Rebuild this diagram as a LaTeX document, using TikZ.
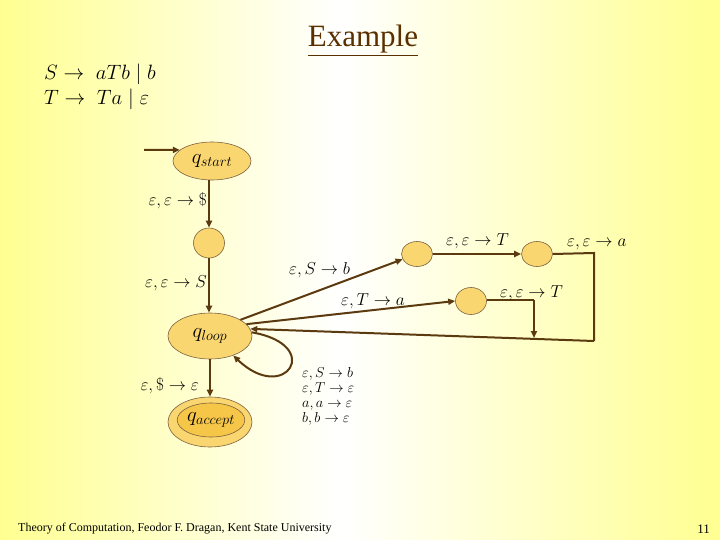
\documentclass[tikz,border=0pt]{standalone}
\usepackage{fontspec}
\setmainfont{Liberation Serif}
\usetikzlibrary{shapes.geometric,arrows.meta}
\definecolor{bgy}{RGB}{255,255,145}
\definecolor{brn}{RGB}{92,58,16}
\definecolor{nfill}{RGB}{249,214,112}
\definecolor{nfill2}{RGB}{246,198,72}
\definecolor{ttl}{RGB}{90,48,0}
\tikzset{
  st/.style={ellipse,draw=brn!80,line width=0.6pt,fill=nfill,inner sep=0pt},
  con/.style={draw=brn,line width=2pt,-{Triangle[length=7pt,width=6pt]}},
  plainline/.style={draw=brn,line width=2pt},
  lab/.style={font=\fontsize{18}{20}\selectfont,inner sep=1pt},
  slab/.style={font=\fontsize{15}{16}\selectfont,inner sep=0pt,align=left}
}
\begin{document}
\begin{tikzpicture}[x=1pt,y=-1pt]
\useasboundingbox (0,0) rectangle (720,540);
\shade[left color=bgy,right color=white] (0,0) rectangle (340,540);
\shade[left color=white,right color=bgy] (340,0) rectangle (720,540);
% title
\node[font=\fontsize{31}{34}\selectfont,text=ttl,anchor=base,inner sep=0pt] (title) at (363,47) {\underline{Example}};
% grammar
\node[anchor=base west,inner sep=0pt,font=\fontsize{20}{22}\selectfont] (g1) at (44,80) {$S \rightarrow\; aTb \mid b$};
\node[anchor=base west,inner sep=0pt,font=\fontsize{20}{22}\selectfont] (g2) at (44,105) {$T \rightarrow\; Ta \mid \varepsilon$};
% states
\node[st,minimum width=78pt,minimum height=38pt] (qs) at (212,161) {\fontsize{21}{22}\selectfont$q_{start}$};
\node[st,minimum width=31pt,minimum height=30pt] (q1) at (209,243) {};
\node[st,minimum width=84pt,minimum height=46pt] (ql) at (210,336) {\fontsize{21}{22}\selectfont$q_{loop}$};
\node[st,minimum width=84pt,minimum height=50pt] (qa) at (210,422) {};
\node[ellipse,draw=brn!80,line width=0.6pt,fill=nfill2,minimum width=64pt,minimum height=34pt,inner sep=0pt] (qai) at (211,420) {\fontsize{21}{22}\selectfont$q_{accept}$};
\node[st,minimum width=31pt,minimum height=25pt] (A) at (417,254) {};
\node[st,minimum width=31pt,minimum height=25pt] (B) at (537,254) {};
\node[st,minimum width=31pt,minimum height=27pt] (C) at (471,301) {};
% coordinates
\coordinate (in) at (144,150);
\coordinate (bR) at (594,253);
\coordinate (bD) at (594,341);
\coordinate (cR) at (534,300);
\coordinate (cD) at (534,338);
% connectors
\draw[con] (in) -- (qs.161);
\draw[con] (q1.north |- qs.south) -- (q1.north);
\draw[con] (q1.south) -- (q1.south |- ql.north);
\draw[con] (ql.south) -- (qa.north);
\draw[con] (ql.28) -- (A.200);
\draw[con] (ql.18) -- (C.west);
\draw[con] (A.east) -- (B.west);
\draw[plainline] (B.east) -- (bR) -- (bD);
\draw[con] (bD) -- (ql.10);
\draw[plainline] (C.east |- cR) -- (cR);
\draw[con] (cR) -- (cD);
\draw[con] (ql.5) .. controls (325,345) and (285,405) .. (ql.-40);
% labels
\node[lab,anchor=base east] (l1) at (208,206) {$\varepsilon,\varepsilon\rightarrow\$$};
\node[lab,anchor=base east] (l2) at (208,287) {$\varepsilon,\varepsilon\rightarrow S$};
\node[lab,anchor=base east] (l3) at (200,390) {$\varepsilon,\$\rightarrow\varepsilon$};
\node[lab,anchor=base west] (l4) at (288,274) {$\varepsilon,S\rightarrow b$};
\node[lab,anchor=base west] (l5) at (340,305) {$\varepsilon,T\rightarrow a$};
\node[lab,anchor=base west] (l6) at (445,245) {$\varepsilon,\varepsilon\rightarrow T$};
\node[lab,anchor=base west] (l7) at (566,247) {$\varepsilon,\varepsilon\rightarrow a$};
\node[lab,anchor=base west] (l8) at (499,297) {$\varepsilon,\varepsilon\rightarrow T$};
\node[slab,anchor=north west] (l9) at (302,367) {$\varepsilon,S\rightarrow b$\\[-1pt]$\varepsilon,T\rightarrow \varepsilon$\\[-1pt]$a,a\rightarrow \varepsilon$\\[-1pt]$b,b\rightarrow \varepsilon$};
% footer
\node[anchor=base west,inner sep=0pt,font=\fontsize{12}{13}\selectfont] (ft) at (18,531) {Theory of Computation, Feodor F. Dragan, Kent State University};
\node[anchor=base east,inner sep=0pt,font=\fontsize{13}{14}\selectfont] (pg) at (710,533) {11};
\end{tikzpicture}
\end{document}
